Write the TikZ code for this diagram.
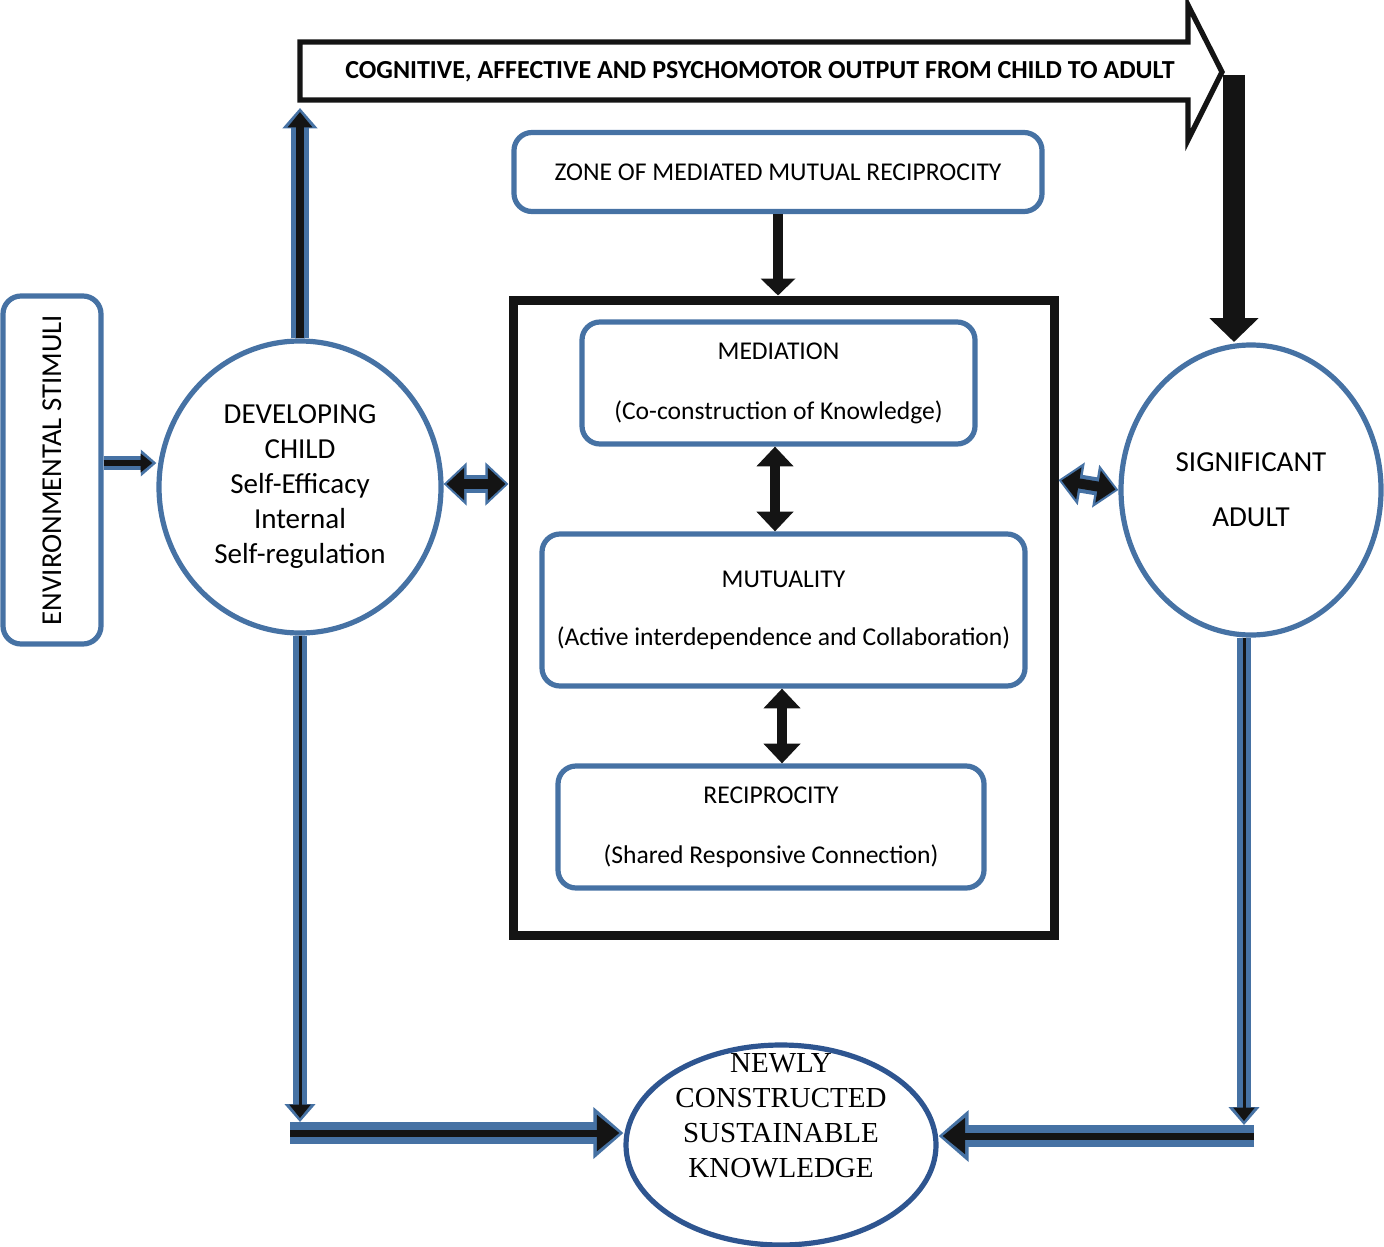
\documentclass[tikz,border=0pt]{standalone}
\usepackage{fontspec}
\setmainfont{Carlito}
\newfontfamily\serifnk{Liberation Serif}
\usetikzlibrary{arrows.meta,shapes.geometric}
\definecolor{edge}{RGB}{70,114,164}
\definecolor{deepblue}{RGB}{46,85,144}
\definecolor{ink}{RGB}{20,20,20}
\tikzset{
  box/.style={draw=edge, line width=2.6pt, rounded corners=9pt, align=center, font=\fontsize{12.8}{14}\selectfont, inner sep=0pt},
  circ/.style={ellipse, draw=edge, line width=2.6pt, align=center, inner sep=0pt},
  % blue outlined black arrows: #1 outer width, #2 inner width, #3 head width
  barrow/.style n args={3}{preaction={draw=edge, line width=#1, shorten >=0pt, shorten <=0pt, arrows={-Triangle[length=#3*0.6, width=#3]}},
    draw=ink, line width=#2, arrows={-Triangle[length=#3*0.45, width=#3*0.7]}, shorten >=2pt},
  bdouble/.style n args={3}{preaction={draw=edge, line width=#1, shorten >=0pt, shorten <=0pt, arrows={Triangle[length=#3*0.55, width=#3]-Triangle[length=#3*0.55, width=#3]}},
    draw=ink, line width=#2, arrows={Triangle[length=#3*0.42, width=#3*0.75]-Triangle[length=#3*0.42, width=#3*0.75]}, shorten >=1.5pt, shorten <=1.5pt},
  karrow/.style n args={2}{draw=ink, line width=#1, arrows={-Triangle[length=#2*0.5, width=#2]}},
  kdouble/.style n args={2}{draw=ink, line width=#1, arrows={Triangle[length=#2*0.55, width=#2]-Triangle[length=#2*0.55, width=#2]}},
}
\begin{document}
\begin{tikzpicture}[x=0.5pt,y=-0.5pt]
\useasboundingbox (0,0) rectangle (1384,1246);

%top output arrow
\draw[ink, line width=2.6pt, fill=white] (300,42) -- (1188,42) -- (1188,5) -- (1222,72) -- (1188,140) -- (1188,100) -- (300,100) -- cycle;
\node[font=\bfseries\fontsize{13}{15}\selectfont] (output) at (760,72) {COGNITIVE, AFFECTIVE AND PSYCHOMOTOR OUTPUT FROM CHILD TO ADULT};

%boxes
\node[box, minimum width=264pt, minimum height=39.5pt] (zone) at (778,172) {ZONE OF MEDIATED MUTUAL RECIPROCITY};
\node[draw=ink, line width=4.5pt, minimum width=270.5pt, minimum height=317.5pt] (frame) at (783.5,617.5) {};
\node[box, minimum width=196.5pt, minimum height=61pt] (mediation) at (778.5,383) {MEDIATION\\[16pt](Co-construction of Knowledge)};
\node[box, minimum width=241.5pt, minimum height=76pt] (mutuality) at (783.5,610) {MUTUALITY\\[15pt](Active interdependence and Collaboration)};
\node[box, minimum width=213pt, minimum height=61pt] (reciprocity) at (771,827) {RECIPROCITY\\[16pt](Shared Responsive Connection)};
\node[box, minimum width=49pt, minimum height=174pt] (stimuli) at (52,470) {};
\node[rotate=90, font=\fontsize{14.4}{16}\selectfont] (stimulilabel) at (52,470) {ENVIRONMENTAL STIMULI};

%circles
\node[circ, minimum width=141pt, minimum height=146pt, font=\fontsize{14.5}{17.5}\selectfont] (child) at (300,487) {DEVELOPING\\CHILD\\Self-Efficacy\\Internal\\Self-regulation};
\node[circ, minimum width=130pt, minimum height=145pt, font=\fontsize{14.5}{17.5}\selectfont] (adult) at (1251,490) {SIGNIFICANT\\[10pt]ADULT};
\node[circ, draw=deepblue, minimum width=155pt, minimum height=100pt] (knowledge) at (781,1145) {};
\node[align=center, font=\serifnk\fontsize{14.5}{17.5}\selectfont] (knowledgelabel) at (781,1116) {NEWLY\\CONSTRUCTED\\SUSTAINABLE\\KNOWLEDGE};

%connectors
\coordinate (upend) at (300,108);
\coordinate (downtop) at (1234,75);
\coordinate (downend) at (1234,342);
\coordinate (leftbend) at (300,1133);
\coordinate (rightbend) at (1244,1136);
\draw[barrow={9pt}{4pt}{17pt}] (child.north) -- (upend);
\draw[karrow={11pt}{24pt}] (downtop) -- (downend);
\draw[karrow={5pt}{17pt}] (zone.south) -- (frame.north -| zone.south);
\draw[kdouble={5pt}{18pt}] (mediation.south -| 775,0) -- (mutuality.north -| 775,0);
\draw[kdouble={5pt}{18pt}] (mutuality.south -| 782,0) -- (reciprocity.north -| 782,0);
\draw[bdouble={9pt}{5pt}{21pt}] (child.east |- 0,484) -- (frame.west |- 0,484);
\draw[bdouble={9pt}{5pt}{21pt}] (frame.east |- 0,480) -- (adult.west);
\draw[barrow={7pt}{3pt}{13pt}] (stimuli.east |- 0,463) -- (child.west |- 0,463);
\draw[barrow={7pt}{1.5pt}{15pt}] (child.south) -- ([yshift=5.5pt]leftbend);
\draw[barrow={11pt}{3.5pt}{25pt}] ([xshift=-5pt]leftbend) -- (leftbend -| knowledge.west);
\draw[barrow={7pt}{1.5pt}{15pt}] (adult.south -| rightbend) -- ([yshift=5.5pt]rightbend);
\draw[barrow={11pt}{3.5pt}{25pt}] ([xshift=5pt]rightbend) -- (rightbend -| knowledge.east);
\end{tikzpicture}
\end{document}
